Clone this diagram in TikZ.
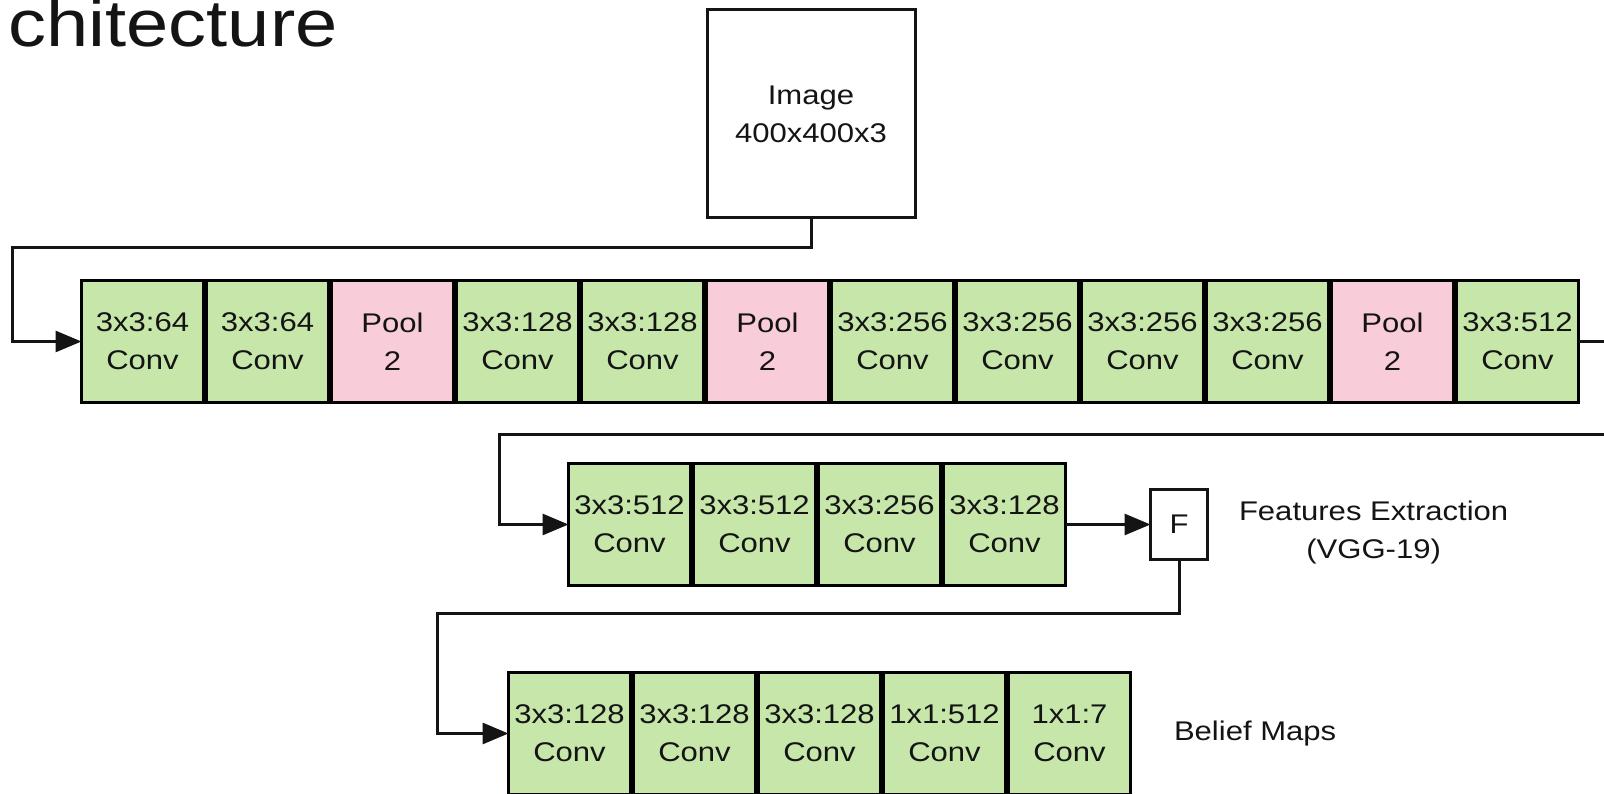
\documentclass[tikz,border=0pt]{standalone}
\usepackage{fontspec}
\setmainfont{Liberation Sans}[FakeStretch=1.15]
\usetikzlibrary{positioning, arrows.meta, matrix}

\definecolor{convgreen}{RGB}{198,230,170}
\definecolor{poolpink}{RGB}{248,205,217}
\definecolor{ink}{RGB}{20,20,20}

\begin{document}
\begin{tikzpicture}[x=1pt,y=1pt,-,>={Triangle[length=26pt,width=21pt]},
     line width=3pt, draw=ink, text=ink, ampersand replacement=\&,
     box/.style={draw, fill=white, outer sep=0pt, inner xsep=1pt, align=center,
        font=\fontsize{27}{38}\selectfont},
     conv/.style={box, fill=convgreen, minimum width=122pt, minimum height=122pt},
     pool/.style={conv, fill=poolpink},
     layers/.style={matrix, inner sep=0pt, outer sep=0pt, column sep=0pt,
        anchor=north west}]

  \useasboundingbox (0,0) rectangle (1604,793);

  % cropped slide title
  \node[anchor=base west, inner sep=0pt, font=\fontsize{66}{70}\selectfont] (title) at (7,746) {chitecture};

  \node[box, minimum width=208pt, minimum height=208pt] (img) at (811,679) {Image\\400x400x3};

  % VGG-19 part 1
  \matrix (row1) [layers, nodes={minimum height=125pt}] at (80,514) {
    \node[conv] (l1) {3x3:64\\Conv};
    \& \node[conv] (l2) {3x3:64\\Conv};
    \& \node[pool] (l3) {Pool\\2};
    \& \node[conv] (l4) {3x3:128\\Conv};
    \& \node[conv] (l5) {3x3:128\\Conv};
    \& \node[pool] (l6) {Pool\\2};
    \& \node[conv] (l7) {3x3:256\\Conv};
    \& \node[conv] (l8) {3x3:256\\Conv};
    \& \node[conv] (l9) {3x3:256\\Conv};
    \& \node[conv] (l10) {3x3:256\\Conv};
    \& \node[pool] (l11) {Pool\\2};
    \& \node[conv] (l12) {3x3:512\\Conv};\\
  };

  % VGG-19 part 2
  \matrix (row2) [layers] at (567,331) {
    \node[conv] (m1) {3x3:512\\Conv};
    \& \node[conv] (m2) {3x3:512\\Conv};
    \& \node[conv] (m3) {3x3:256\\Conv};
    \& \node[conv] (m4) {3x3:128\\Conv};\\
  };

  \node[box, minimum width=57pt, minimum height=70pt, right=85pt of m4] (f) {F};
  \node[align=center, font=\fontsize{27}{38}\selectfont, anchor=west, inner sep=0pt] (feat) at ([xshift=30pt,yshift=-8pt]f.east) {Features Extraction\\(VGG-19)};

  % belief map stage
  \matrix (row3) [layers] at (507,122) {
    \node[conv] (s1) {3x3:128\\Conv};
    \& \node[conv] (s2) {3x3:128\\Conv};
    \& \node[conv] (s3) {3x3:128\\Conv};
    \& \node[conv] (s4) {1x1:512\\Conv};
    \& \node[conv] (s5) {1x1:7\\Conv};\\
  };
  \node[font=\fontsize{27}{38}\selectfont, anchor=west, inner sep=0pt] (belief) at ([xshift=42pt]s5.east) {Belief Maps};

  \coordinate (aux1) at (12,545);
  \coordinate (aux2) at (1630,358);
  \coordinate (aux3) at (499,358);
  \coordinate (aux4) at (437,179);

  \draw[->] (img.south) |- (aux1) |- (l1.west);
  \draw[->] (l12.east) -| (aux2) -- (aux3) |- (m1.west);
  \path[->] (m4.east) edge (f.west);
  \draw[->] (f.south) |- (aux4) |- (s1.west);
\end{tikzpicture}
\end{document}
